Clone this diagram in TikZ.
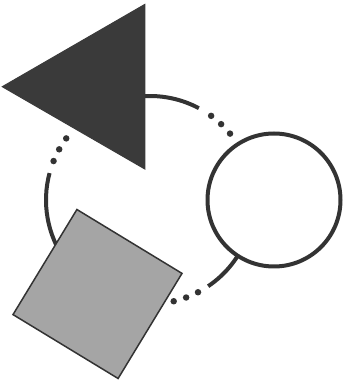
\documentclass[tikz,border=0pt]{standalone}
\usepackage{tikz}
\usetikzlibrary{shapes.geometric, calc}
\definecolor{cInk}{RGB}{51,51,51}
\definecolor{cDark}{RGB}{58,58,58}
\definecolor{cTile}{RGB}{165,165,165}
\tikzset{
	ringline/.style ={draw=cInk, line width=4pt},
	ringdots/.style ={draw=cInk, line width=6.5pt, line cap=round, dash pattern=on 0pt off 13pt},
	wedge/.style    ={regular polygon, regular polygon sides=3, shape border rotate=90, minimum size=190pt, inner sep=0pt, fill=cDark, draw=cDark, line width=1pt},
	disc/.style     ={circle, minimum size=133pt, inner sep=0pt, draw=cInk, line width=4pt, fill=white},
	tile/.style     ={rectangle, minimum size=123pt, inner sep=0pt, draw=cInk, line width=1.5pt, fill=cTile},
}

\begin{document}
\begin{tikzpicture}[x=1pt, y=1pt]
	\useasboundingbox (0,0) rectangle (353,383);
	\coordinate (hub) at (150,183);
	% ring pieces
	\draw[ringline] ($(hub)+(100:104)$) arc[start angle=100, end angle=62, radius=104];
	\draw[ringdots] ($(hub)+(54:104)$) arc[start angle=54, end angle=37, radius=104];
	\draw[ringline] ($(hub)+(-20:104)$) arc[start angle=-20, end angle=-56, radius=104];
	\draw[ringdots] ($(hub)+(-62.5:104)$) arc[start angle=-62.5, end angle=-78, radius=104];
	\draw[ringline] ($(hub)+(165:104)$) arc[start angle=165, end angle=215, radius=104];
	\draw[ringdots] ($(hub)+(158:104)$) arc[start angle=158, end angle=141, radius=104];
	% shapes
	\node[wedge] (tri) at (97.3,296.3) {};
	\node[disc] (ball) at (274,183) {};
	\node[tile, rotate=-31.3] (box) at (97.5,89) {};
\end{tikzpicture}
\end{document}
